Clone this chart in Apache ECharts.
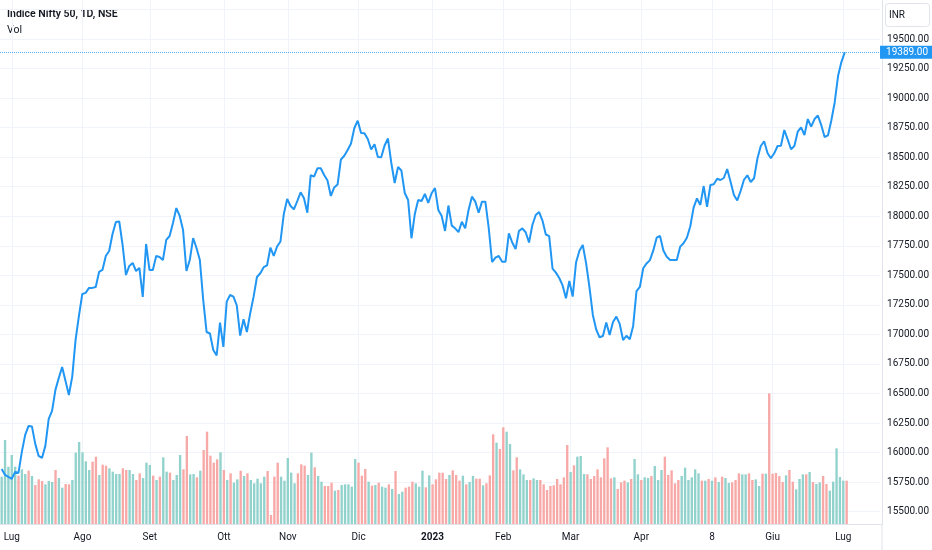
<!DOCTYPE html>
<html>
<head>
<meta charset="utf-8">
<script src="https://cdn.jsdelivr.net/npm/echarts@6/dist/echarts.min.js"></script>
<style>
  html, body { margin: 0; padding: 0; background: #ffffff; }
  #container { width: 932px; height: 550px; }
</style>
</head>
<body>
<div id="container"></div>
<script>
// NSE closed days inside the window (weekends are skipped separately)
var holidays = ['2022-08-09', '2022-08-15', '2022-08-31', '2022-10-05', '2022-10-26', '2022-11-08',
  '2023-01-26', '2023-03-07', '2023-03-30', '2023-04-04', '2023-04-07', '2023-04-14', '2023-05-01', '2023-06-29'];

// daily close, 28 Jun 2022 .. 4 Jul 2023
var closes = [
  15862, 15811, 15794, 15778, 15837, 15828, 16006, 16150, 16226, 16222,
  16074, 15972, 15955, 16057, 16285, 16353, 16531, 16632, 16725, 16607,
  16488, 16641, 16954, 17157, 17343, 17352, 17394, 17394, 17402, 17529,
  17546, 17664, 17706, 17850, 17952, 17956, 17757, 17503, 17580, 17605,
  17537, 17563, 17317, 17766, 17546, 17546, 17664, 17656, 17630, 17800,
  17833, 17943, 18070, 18003, 17884, 17537, 17630, 17816, 17732, 17630,
  17292, 17021, 17008, 16869, 16822, 17100, 16894, 17278, 17334, 17320,
  17245, 16990, 17129, 17021, 17180, 17320, 17486, 17518, 17569, 17584,
  17734, 17664, 17744, 17787, 18020, 18146, 18087, 18059, 18129, 18203,
  18152, 18030, 18349, 18335, 18406, 18406, 18349, 18303, 18172, 18244,
  18269, 18481, 18512, 18561, 18616, 18747, 18809, 18705, 18702, 18654,
  18565, 18609, 18502, 18499, 18599, 18658, 18451, 18282, 18417, 18387,
  18197, 18138, 17814, 18020, 18138, 18129, 18189, 18113, 18195, 18239,
  18053, 18003, 17876, 18091, 17921, 17898, 17866, 17954, 17898, 18053,
  18166, 18124, 18030, 18124, 18124, 17901, 17613, 17650, 17664, 17616,
  17616, 17855, 17778, 17723, 17876, 17898, 17865, 17778, 17926, 18011,
  18036, 17964, 17846, 17832, 17558, 17523, 17478, 17415, 17306, 17453,
  17320, 17609, 17709, 17757, 17601, 17398, 17165, 17042, 16976, 16987,
  17102, 16996, 17106, 17151, 17089, 16953, 16989, 16959, 17072, 17366,
  17402, 17560, 17601, 17629, 17711, 17819, 17833, 17711, 17658, 17630,
  17630, 17630, 17743, 17772, 17819, 17914, 18073, 18151, 18096, 18256,
  18079, 18265, 18271, 18318, 18307, 18324, 18400, 18293, 18180, 18134,
  18214, 18309, 18347, 18290, 18322, 18489, 18595, 18635, 18536, 18491,
  18533, 18595, 18597, 18730, 18651, 18567, 18595, 18716, 18753, 18688,
  18823, 18758, 18823, 18853, 18772, 18671, 18684, 18811, 18963, 19187,
  19305, 19389
];

// volume, millions
var volumes = [
  284, 504, 344, 414, 344, 290, 328, 300, 320, 288,
  234, 268, 258, 238, 258, 252, 324, 276, 218, 240,
  238, 264, 428, 492, 430, 376, 324, 374, 404, 294,
  356, 350, 334, 314, 300, 300, 334, 324, 324, 300,
  264, 304, 276, 368, 354, 290, 264, 284, 400, 314,
  308, 264, 294, 414, 328, 528, 298, 300, 280, 320,
  444, 554, 410, 368, 388, 430, 324, 264, 304, 248,
  268, 320, 288, 304, 264, 244, 272, 244, 284, 318,
  54, 284, 368, 284, 260, 396, 308, 244, 304, 358,
  350, 294, 428, 340, 288, 254, 228, 228, 248, 200,
  204, 234, 238, 238, 224, 390, 368, 290, 330, 254,
  230, 234, 248, 224, 218, 238, 210, 318, 180, 194,
  218, 224, 254, 244, 224, 320, 220, 292, 238, 268,
  308, 308, 270, 294, 322, 294, 260, 290, 238, 252,
  288, 272, 272, 232, 244, 292, 538, 488, 450, 580,
  554, 480, 322, 400, 328, 298, 264, 264, 274, 264,
  264, 238, 204, 228, 232, 270, 238, 280, 474, 312,
  352, 404, 408, 300, 298, 270, 288, 328, 280, 394,
  460, 274, 280, 210, 250, 260, 250, 270, 390, 298,
  264, 280, 276, 288, 348, 264, 324, 404, 294, 322,
  244, 264, 288, 338, 264, 280, 328, 304, 260, 260,
  270, 260, 280, 252, 284, 276, 246, 250, 264, 304,
  298, 298, 304, 264, 268, 228, 302, 302, 784, 302,
  306, 288, 252, 292, 324, 254, 208, 270, 298, 298,
  312, 252, 240, 250, 288, 240, 200, 254, 454, 282,
  260, 260
];

// 1 = up day (teal), 0 = down day (red)
var volUp = [
  1, 1, 1, 1, 1, 0, 1, 1, 0, 1,
  0, 0, 0, 1, 1, 1, 0, 1, 1, 0,
  0, 1, 1, 1, 1, 1, 1, 0, 0, 1,
  0, 0, 1, 1, 1, 1, 0, 0, 1, 1,
  0, 0, 1, 1, 1, 0, 1, 0, 1, 1,
  0, 1, 1, 1, 0, 0, 1, 1, 0, 1,
  0, 0, 0, 0, 0, 1, 0, 1, 0, 1,
  1, 0, 1, 0, 1, 1, 1, 1, 1, 0,
  0, 0, 0, 1, 1, 1, 1, 1, 0, 0,
  0, 1, 1, 0, 1, 1, 0, 0, 0, 1,
  0, 1, 1, 1, 1, 1, 0, 0, 0, 1,
  0, 1, 0, 1, 1, 0, 1, 0, 1, 1,
  0, 0, 0, 1, 1, 1, 0, 1, 0, 0,
  0, 0, 0, 1, 0, 0, 0, 1, 0, 1,
  1, 0, 0, 1, 0, 0, 0, 1, 0, 0,
  1, 1, 0, 0, 1, 1, 1, 0, 1, 1,
  0, 0, 0, 0, 0, 0, 0, 0, 0, 1,
  0, 1, 1, 1, 0, 0, 0, 0, 0, 0,
  0, 0, 1, 0, 0, 0, 1, 0, 1, 1,
  0, 1, 1, 0, 1, 1, 1, 0, 0, 0,
  0, 0, 1, 1, 1, 1, 1, 1, 0, 1,
  0, 1, 0, 1, 0, 1, 1, 0, 0, 0,
  1, 1, 0, 0, 1, 1, 0, 1, 0, 0,
  0, 0, 0, 1, 0, 0, 1, 1, 1, 0,
  1, 0, 1, 1, 0, 0, 1, 1, 1, 1,
  1, 0
];

// time-axis labels (Italian) at the first session shown for each
var tickLabels = {
  '2022-07-01': 'Lug', '2022-08-01': 'Ago', '2022-09-01': 'Set', '2022-10-03': 'Ott',
  '2022-11-01': 'Nov', '2022-12-01': 'Dic', '2023-01-02': '2023', '2023-02-01': 'Feb',
  '2023-03-01': 'Mar', '2023-04-03': 'Apr', '2023-05-08': '8', '2023-06-01': 'Giu',
  '2023-07-03': 'Lug'
};

var lastClose = 19389;

function tradingDays(start, end) {
  var out = [];
  var d = new Date(start + 'T00:00:00Z');
  var e = new Date(end + 'T00:00:00Z');
  while (d <= e) {
    var s = d.toISOString().slice(0, 10);
    var wd = d.getUTCDay();
    if (wd !== 0 && wd !== 6 && holidays.indexOf(s) < 0) out.push(s);
    d.setUTCDate(d.getUTCDate() + 1);
  }
  return out;
}

var dates = tradingDays('2022-06-28', '2023-07-04');
var categories = dates.slice();
for (var k = 1; k <= 10; k++) categories.push('pad' + k);   // empty space right of last bar

var volData = volumes.map(function (v, i) {
  return { value: v, itemStyle: { color: volUp[i] ? '#92d2cc' : '#f7a9a7' } };
});

function isTick(index, value) { return tickLabels[value] !== undefined; }

var FONT = 'Roboto';
var TXT = '#131722';
var GRID = '#f0f3fa';

var dom = document.getElementById('container');
var myChart = echarts.init(dom, null, { renderer: 'canvas' });

var option = {
  animation: false,
  backgroundColor: '#ffffff',
  textStyle: { fontFamily: FONT },
  grid: [
    { left: 0, right: 50, top: 9.5, bottom: 38.3 },     // price pane
    { left: 0, right: 50, top: 0, bottom: 26 }          // volume + time axis
  ],
  xAxis: [
    { type: 'category', gridIndex: 0, data: categories, show: false },
    {
      type: 'category', gridIndex: 1, data: categories,
      axisLine: { lineStyle: { color: '#e0e3eb' } },
      axisTick: { show: false },
      axisLabel: {
        interval: isTick,
        formatter: function (v) { return v === '2023-01-02' ? '{b|2023}' : (tickLabels[v] || ''); },
        color: TXT, fontSize: 10, fontFamily: FONT, margin: 8,
        rich: { b: { fontWeight: 'bold', fontSize: 10, color: TXT, fontFamily: FONT } }
      },
      splitLine: { show: true, interval: isTick, alignWithLabel: true, lineStyle: { color: GRID } }
    }
  ],
  yAxis: [
    {
      type: 'value', gridIndex: 0, position: 'right',
      min: 15500, max: 19750, interval: 250,
      axisLine: { show: false }, axisTick: { show: false },
      axisLabel: {
        color: TXT, fontSize: 10, fontFamily: FONT, margin: 7,
        formatter: function (v) { return v >= 19750 ? '' : v.toFixed(2); }
      },
      splitLine: { lineStyle: { color: GRID } }
    },
    {
      type: 'value', gridIndex: 1, position: 'right', min: 0, max: 3144,
      axisLine: { show: true, lineStyle: { color: '#e0e3eb' } },
      axisTick: { show: false }, axisLabel: { show: false }, splitLine: { show: false }
    }
  ],
  graphic: [
    { type: 'text', left: 7, top: 9, style: { text: 'Indice Nifty 50, 1D, NSE', font: '600 10.5px ' + FONT, fill: TXT } },
    { type: 'text', left: 7, top: 25, style: { text: 'Vol', font: '10.5px ' + FONT, fill: TXT } },
    { type: 'rect', shape: { x: 885.5, y: 3.5, width: 44, height: 23, r: 3 }, style: { fill: '#ffffff', stroke: '#e0e3eb', lineWidth: 1 } },
    { type: 'text', x: 889, y: 15, style: { text: 'INR', font: '10px ' + FONT, fill: TXT, verticalAlign: 'middle' } },
    { type: 'line', shape: { x1: 882, y1: 524, x2: 882, y2: 550 }, style: { stroke: '#e0e3eb', lineWidth: 1 } }
  ],
  series: [
    {
      name: 'Vol', type: 'bar', xAxisIndex: 1, yAxisIndex: 1,
      data: volData, barWidth: '70%', z: 1
    },
    {
      name: 'Nifty 50', type: 'line', xAxisIndex: 0, yAxisIndex: 0,
      data: closes, showSymbol: false, symbol: 'none',
      lineStyle: { color: '#2196f3', width: 2 }, z: 5,
      markLine: {
        silent: true, symbol: 'none', animation: false,
        data: [{ yAxis: lastClose }],
        lineStyle: { type: 'dotted', color: 'rgba(33,150,243,0.75)', width: 1 },
        label: {
          position: 'end', distance: 0, formatter: lastClose.toFixed(2),
          color: '#ffffff', backgroundColor: '#2196f3', padding: [2, 5, 1, 6],
          fontSize: 10, fontFamily: FONT
        }
      }
    }
  ]
};

if (option && typeof option === 'object') {
  myChart.setOption(option);
}
window.addEventListener('resize', myChart.resize);
</script>
</body>
</html>
